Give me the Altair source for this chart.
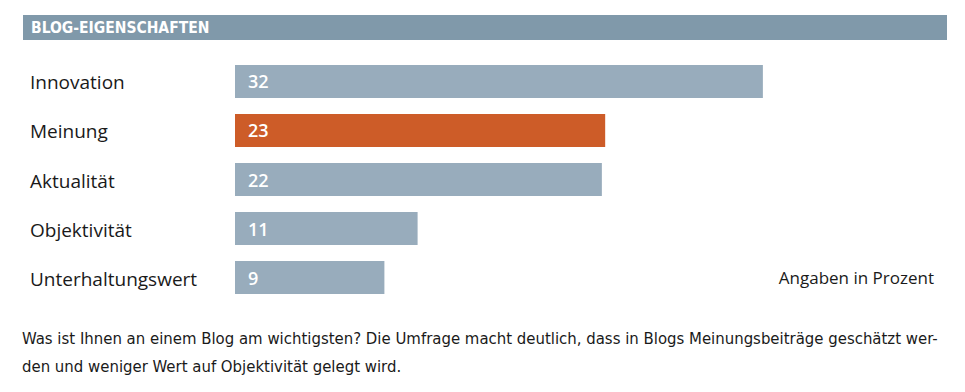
import altair as alt
import pandas as pd

categories = ["Innovation", "Meinung", "Aktualität", "Objektivität", "Unterhaltungswert"]
values = [31.8, 22.3, 22.1, 11.0, 9.0]
labels = ["32", "23", "22", "11", "9"]
highlight = [False, True, False, False, False]

title_text = "BLOG-EIGENSCHAFTEN"
unit_note = "Angaben in Prozent"
footnote = [
    "Was ist Ihnen an einem Blog am wichtigsten? Die Umfrage macht deutlich, dass in Blogs Meinungsbeiträge geschätzt wer-",
    "den und weniger Wert auf Objektivität gelegt wird.",
]

df = pd.DataFrame({"cat": categories, "val": values, "lab": labels, "hl": highlight})

W, H = 949, 376
FONT = "Open Sans"
COND = "DejaVu Sans Condensed"

x_scale = alt.Scale(domain=[0, 40], range=[227, 227 + 16.6 * 40], nice=False, zero=False)
y_scale = alt.Scale(domain=categories, range=[57, 286], paddingInner=0.33, paddingOuter=0)

base = alt.Chart(df)

bars = base.mark_bar(size=33).encode(
    x=alt.X("val:Q", scale=x_scale, axis=None),
    x2=alt.datum(0),
    y=alt.Y("cat:N", scale=y_scale, axis=None, sort=categories),
    color=alt.Color("hl:N", scale=alt.Scale(domain=[False, True], range=["#98ACBC", "#CD5C28"]), legend=None),
)

vals = base.mark_text(align="left", baseline="middle", dx=13, dy=2, font=FONT, fontSize=18,
                      fontWeight=600, color="white").encode(
    x=alt.X("zero:Q", scale=x_scale, axis=None),
    y=alt.Y("cat:N", scale=y_scale, axis=None, sort=categories),
    text="lab:N",
).transform_calculate(zero="0")

cat_labels = base.mark_text(align="left", baseline="middle", dy=2, font=FONT, fontSize=19, color="#1a1a1a").encode(
    x=alt.value(22),
    y=alt.Y("cat:N", scale=y_scale, axis=None, sort=categories),
    text="cat:N",
)

header = alt.Chart(pd.DataFrame({"t": [title_text]})).mark_rect(color="#8099AA").encode(
    x=alt.value(15), x2=alt.value(939), y=alt.value(7), y2=alt.value(32)
)
header_text = alt.Chart(pd.DataFrame({"t": [title_text]})).mark_text(
    align="left", baseline="middle", font=COND, fontSize=15.5, fontWeight="bold", color="white"
).encode(x=alt.value(23), y=alt.value(20), text="t:N")

unit = alt.Chart(pd.DataFrame({"t": [unit_note]})).mark_text(
    align="right", baseline="middle", font=FONT, fontSize=17, color="#1a1a1a"
).encode(x=alt.value(926), y=alt.value(271), text="t:N")

foot = alt.Chart(pd.DataFrame({"t": [0]})).mark_text(
    align="left", baseline="middle", font=COND, fontSize=16.6, lineHeight=28, color="#1a1a1a"
).encode(x=alt.value(14), y=alt.value(331), text=alt.value(footnote))

chart = alt.layer(header, header_text, bars, vals, cat_labels, unit, foot).properties(
    width=W, height=H, autosize=alt.AutoSizeParams(type="none"), padding=0, background="white"
).configure_view(stroke=None)

chart.save("out.html", embed_options={"renderer": "svg", "actions": False})
